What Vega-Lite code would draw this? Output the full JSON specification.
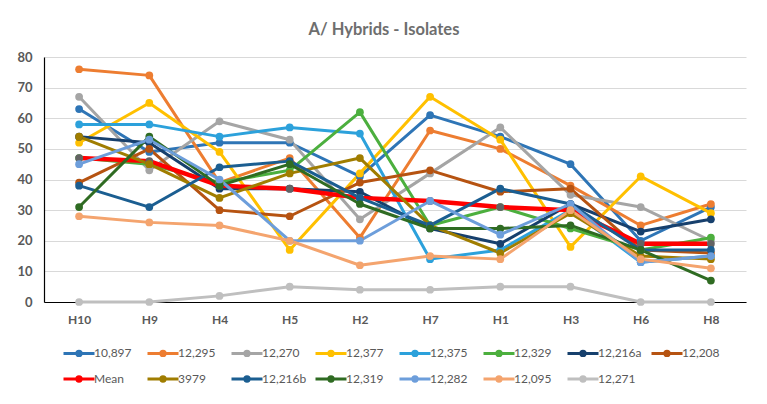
{
  "$schema": "https://vega.github.io/schema/vega-lite/v6.json",
  "width": 702,
  "height": 245,
  "autosize": {"type": "none"},
  "padding": {"left": 44, "top": 57, "right": 21, "bottom": 102},
  "background": "white",
  "title": {"text": "A/ Hybrids - Isolates", "font": "Lato", "fontSize": 16.5, "fontWeight": "bold", "color": "#6E6E6E", "offset": 13, "anchor": "middle", "dx": -11},
  "config": {
    "view": {"stroke": null},
    "axis": {"labelFont": "Lato", "labelFontWeight": "bold", "labelColor": "#595959", "ticks": false, "title": null},
    "legend": {"labelFont": "Lato", "labelFontSize": 12, "labelColor": "#595959", "padding": 0}
  },
  "data": {
    "values": [
      {"s":"10,897","h":"H10","v":63},{"s":"10,897","h":"H9","v":49},{"s":"10,897","h":"H4","v":52},{"s":"10,897","h":"H5","v":52},{"s":"10,897","h":"H2","v":41},{"s":"10,897","h":"H7","v":61},{"s":"10,897","h":"H1","v":54},{"s":"10,897","h":"H3","v":45},{"s":"10,897","h":"H6","v":20},{"s":"10,897","h":"H8","v":31},
      {"s":"12,295","h":"H10","v":76},{"s":"12,295","h":"H9","v":74},{"s":"12,295","h":"H4","v":39},{"s":"12,295","h":"H5","v":47},{"s":"12,295","h":"H2","v":21},{"s":"12,295","h":"H7","v":56},{"s":"12,295","h":"H1","v":50},{"s":"12,295","h":"H3","v":38},{"s":"12,295","h":"H6","v":25},{"s":"12,295","h":"H8","v":32},
      {"s":"12,270","h":"H10","v":67},{"s":"12,270","h":"H9","v":43},{"s":"12,270","h":"H4","v":59},{"s":"12,270","h":"H5","v":53},{"s":"12,270","h":"H2","v":27},{"s":"12,270","h":"H7","v":42},{"s":"12,270","h":"H1","v":57},{"s":"12,270","h":"H3","v":35},{"s":"12,270","h":"H6","v":31},{"s":"12,270","h":"H8","v":20},
      {"s":"12,377","h":"H10","v":52},{"s":"12,377","h":"H9","v":65},{"s":"12,377","h":"H4","v":49},{"s":"12,377","h":"H5","v":17},{"s":"12,377","h":"H2","v":42},{"s":"12,377","h":"H7","v":67},{"s":"12,377","h":"H1","v":53},{"s":"12,377","h":"H3","v":18},{"s":"12,377","h":"H6","v":41},{"s":"12,377","h":"H8","v":29},
      {"s":"12,375","h":"H10","v":58},{"s":"12,375","h":"H9","v":58},{"s":"12,375","h":"H4","v":54},{"s":"12,375","h":"H5","v":57},{"s":"12,375","h":"H2","v":55},{"s":"12,375","h":"H7","v":14},{"s":"12,375","h":"H1","v":17},{"s":"12,375","h":"H3","v":30},{"s":"12,375","h":"H6","v":13},{"s":"12,375","h":"H8","v":15},
      {"s":"12,329","h":"H10","v":47},{"s":"12,329","h":"H9","v":45},{"s":"12,329","h":"H4","v":39},{"s":"12,329","h":"H5","v":43},{"s":"12,329","h":"H2","v":62},{"s":"12,329","h":"H7","v":25},{"s":"12,329","h":"H1","v":31},{"s":"12,329","h":"H3","v":24},{"s":"12,329","h":"H6","v":17},{"s":"12,329","h":"H8","v":21},
      {"s":"12,216a","h":"H10","v":54},{"s":"12,216a","h":"H9","v":52},{"s":"12,216a","h":"H4","v":37},{"s":"12,216a","h":"H5","v":37},{"s":"12,216a","h":"H2","v":36},{"s":"12,216a","h":"H7","v":24},{"s":"12,216a","h":"H1","v":19},{"s":"12,216a","h":"H3","v":32},{"s":"12,216a","h":"H6","v":23},{"s":"12,216a","h":"H8","v":27},
      {"s":"12,208","h":"H10","v":39},{"s":"12,208","h":"H9","v":50},{"s":"12,208","h":"H4","v":30},{"s":"12,208","h":"H5","v":28},{"s":"12,208","h":"H2","v":39},{"s":"12,208","h":"H7","v":43},{"s":"12,208","h":"H1","v":36},{"s":"12,208","h":"H3","v":37},{"s":"12,208","h":"H6","v":17},{"s":"12,208","h":"H8","v":16},
      {"s":"Mean","h":"H10","v":47},{"s":"Mean","h":"H9","v":46},{"s":"Mean","h":"H4","v":38},{"s":"Mean","h":"H5","v":37},{"s":"Mean","h":"H2","v":34},{"s":"Mean","h":"H7","v":33},{"s":"Mean","h":"H1","v":31},{"s":"Mean","h":"H3","v":30},{"s":"Mean","h":"H6","v":19},{"s":"Mean","h":"H8","v":19},
      {"s":"3979","h":"H10","v":54},{"s":"3979","h":"H9","v":45},{"s":"3979","h":"H4","v":34},{"s":"3979","h":"H5","v":42},{"s":"3979","h":"H2","v":47},{"s":"3979","h":"H7","v":25},{"s":"3979","h":"H1","v":16},{"s":"3979","h":"H3","v":29},{"s":"3979","h":"H6","v":15},{"s":"3979","h":"H8","v":14},
      {"s":"12,216b","h":"H10","v":38},{"s":"12,216b","h":"H9","v":31},{"s":"12,216b","h":"H4","v":44},{"s":"12,216b","h":"H5","v":46},{"s":"12,216b","h":"H2","v":34},{"s":"12,216b","h":"H7","v":25},{"s":"12,216b","h":"H1","v":37},{"s":"12,216b","h":"H3","v":32},{"s":"12,216b","h":"H6","v":17},{"s":"12,216b","h":"H8","v":17},
      {"s":"12,319","h":"H10","v":31},{"s":"12,319","h":"H9","v":54},{"s":"12,319","h":"H4","v":38},{"s":"12,319","h":"H5","v":45},{"s":"12,319","h":"H2","v":32},{"s":"12,319","h":"H7","v":24},{"s":"12,319","h":"H1","v":24},{"s":"12,319","h":"H3","v":25},{"s":"12,319","h":"H6","v":17},{"s":"12,319","h":"H8","v":7},
      {"s":"12,282","h":"H10","v":45},{"s":"12,282","h":"H9","v":53},{"s":"12,282","h":"H4","v":40},{"s":"12,282","h":"H5","v":20},{"s":"12,282","h":"H2","v":20},{"s":"12,282","h":"H7","v":33},{"s":"12,282","h":"H1","v":22},{"s":"12,282","h":"H3","v":32},{"s":"12,282","h":"H6","v":13},{"s":"12,282","h":"H8","v":15},
      {"s":"12,095","h":"H10","v":28},{"s":"12,095","h":"H9","v":26},{"s":"12,095","h":"H4","v":25},{"s":"12,095","h":"H5","v":20},{"s":"12,095","h":"H2","v":12},{"s":"12,095","h":"H7","v":15},{"s":"12,095","h":"H1","v":14},{"s":"12,095","h":"H3","v":30},{"s":"12,095","h":"H6","v":14},{"s":"12,095","h":"H8","v":11},
      {"s":"12,271","h":"H10","v":0},{"s":"12,271","h":"H9","v":0},{"s":"12,271","h":"H4","v":2},{"s":"12,271","h":"H5","v":5},{"s":"12,271","h":"H2","v":4},{"s":"12,271","h":"H7","v":4},{"s":"12,271","h":"H1","v":5},{"s":"12,271","h":"H3","v":5},{"s":"12,271","h":"H6","v":0},{"s":"12,271","h":"H8","v":0}
    ]
  },
  "encoding": {
    "x": {"field": "h", "type": "nominal", "sort": null,
      "scale": {"type": "point", "padding": 0.5},
      "axis": {"labelAngle": 0, "labelFontSize": 12, "labelPadding": 12, "domainColor": "#000000", "domainWidth": 1.2, "grid": false}},
    "y": {"field": "v", "type": "quantitative",
      "scale": {"domain": [0, 80], "nice": false},
      "axis": {"values": [0,10,20,30,40,50,60,70,80], "labelFontSize": 13, "labelPadding": 12, "domainColor": "#000000", "domainWidth": 1.2, "gridColor": "#D9D9D9", "gridWidth": 1}}
  },
  "layer": [
    {
      "mark": {"type": "line", "strokeCap": "round", "strokeJoin": "round"},
      "encoding": {
        "stroke": {"field": "s", "type": "nominal",
          "scale": {
            "domain": ["10,897","12,295","12,270","12,377","12,375","12,329","12,216a","12,208","Mean","3979","12,216b","12,319","12,282","12,095","12,271"],
            "range": ["#2E75B6","#ED7D31","#A5A5A5","#FFC000","#2CA1DB","#4CAF3E","#17406D","#B65311","#FF0000","#A07D00","#1B5E91","#2F6B22","#6D9EDB","#F4A46E","#BFBFBF"]
          },
          "legend": {"title": null, "orient": "none", "legendX": 18, "legendY": 279, "direction": "horizontal", "columns": 8, "gridAlign": "all", "columnPadding": 2, "rowPadding": -11, "labelOffset": -2, "symbolSize": 961, "symbolStrokeWidth": 3, "symbolType": "M-1,0L1,0M-0.14,0A0.14,0.14 0 1,1 0.14,0A0.14,0.14 0 1,1 -0.14,0Z"}
        },
        "strokeWidth": {"condition": {"test": "datum.s === 'Mean'", "value": 4.5}, "value": 3}
      }
    },
    {
      "mark": {"type": "point", "filled": true, "size": 60, "opacity": 1, "shape": "circle"},
      "encoding": {
        "fill": {"field": "s", "type": "nominal",
          "scale": {
            "domain": ["10,897","12,295","12,270","12,377","12,375","12,329","12,216a","12,208","Mean","3979","12,216b","12,319","12,282","12,095","12,271"],
            "range": ["#2E75B6","#ED7D31","#A5A5A5","#FFC000","#2CA1DB","#4CAF3E","#17406D","#B65311","#636363","#A07D00","#1B5E91","#2F6B22","#6D9EDB","#F4A46E","#BFBFBF"]
          },
          "legend": {"title": null, "orient": "none", "legendX": 18, "legendY": 279, "direction": "horizontal", "columns": 8, "gridAlign": "all", "columnPadding": 2, "rowPadding": -11, "labelOffset": -2, "symbolSize": 961, "symbolStrokeWidth": 3, "symbolType": "M-1,0L1,0M-0.14,0A0.14,0.14 0 1,1 0.14,0A0.14,0.14 0 1,1 -0.14,0Z"}
        }
      }
    }
  ]
}
